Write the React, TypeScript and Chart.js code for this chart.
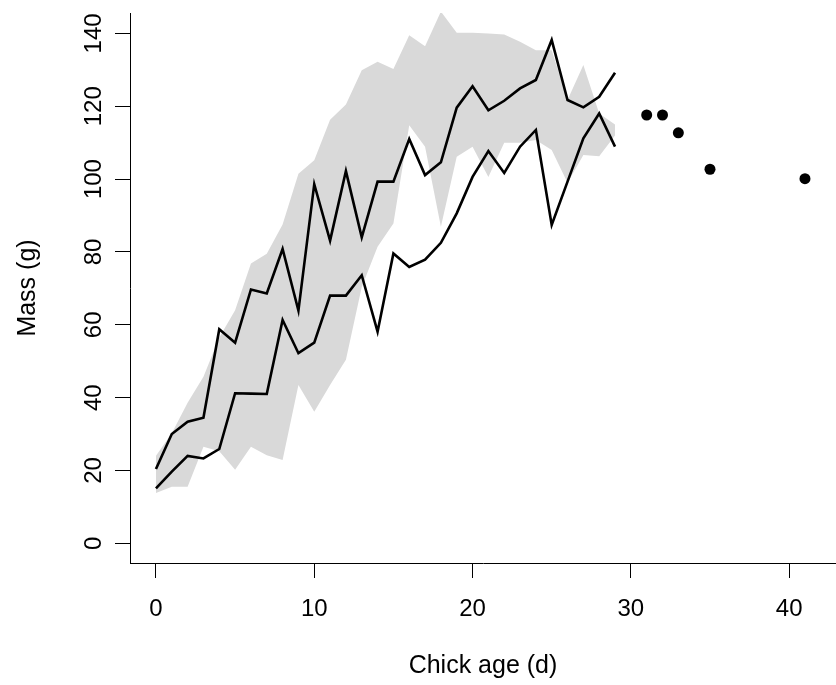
import React, { useEffect, useRef } from "react";
import { Chart, registerables } from "chart.js";

Chart.register(...registerables);

const ages = [0, 1, 2, 3, 4, 5, 6, 7, 8, 9, 10, 11, 12, 13, 14, 15, 16, 17, 18, 19, 20, 21, 22, 23, 24, 25, 26, 27, 28, 29];
const bandUpper = [24.0, 30.2, 38.6, 45.7, 56.5, 64.0, 76.8, 79.5, 87.5, 101.5, 105.2, 116.3, 120.5, 129.9, 132.2, 130.2, 139.5, 136.5, 146.0, 140.2, 140.2, 140.0, 139.7, 137.7, 135.4, 135.4, 121.7, 131.3, 118.0, 115.0];
const bandLower = [13.8, 15.5, 15.5, 26.5, 25.3, 20.2, 26.5, 24.2, 22.9, 43.5, 36.1, 43.5, 50.4, 70.4, 81.4, 87.8, 114.8, 108.9, 86.9, 106.1, 108.9, 100.6, 110.0, 110.0, 110.7, 108.0, 99.0, 106.6, 106.3, 112.0];
const massHigh = [20.4, 30.0, 33.4, 34.5, 58.8, 55.1, 69.7, 68.6, 80.8, 63.9, 98.6, 83.1, 102.2, 84.0, 99.3, 99.3, 111.0, 101.1, 104.6, 119.6, 125.5, 118.9, 121.5, 124.9, 127.2, 138.2, 121.7, 119.7, 122.6, 129.2];
const massLow = [15.1, 19.7, 24.0, 23.3, 25.9, 41.2, 41.1, 41.0, 61.3, 52.2, 55.1, 68.0, 68.0, 73.6, 58.1, 79.6, 75.9, 77.9, 82.5, 90.6, 100.6, 107.7, 101.7, 108.9, 113.5, 87.4, 99.3, 111.2, 118.0, 108.9];
const extraAges = [31, 32, 33, 35, 41];
const extraMass = [117.6, 117.6, 112.7, 102.7, 100.1];
const xTicks = [0, 10, 20, 30, 40];
const yTicks = [0, 20, 40, 60, 80, 100, 120, 140];

const FONT = "'Liberation Sans', Arial, Helvetica, sans-serif";

export default function App() {
  const ref = useRef<HTMLCanvasElement | null>(null);

  useEffect(() => {
    const canvas = ref.current;
    if (!canvas) return;
    const pts = (xs: number[], ys: number[]) => xs.map((x, i) => ({ x, y: ys[i] }));
    const chart = new Chart(canvas, {
      type: "line",
      data: {
        datasets: [
          {
            data: pts(ages, massHigh),
            borderColor: "#000",
            borderWidth: 2.6,
            pointRadius: 0,
            tension: 0,
            fill: false,
          },
          {
            data: pts(ages, massLow),
            borderColor: "#000",
            borderWidth: 2.6,
            pointRadius: 0,
            tension: 0,
            fill: false,
          },
          {
            data: pts(extraAges, extraMass),
            showLine: false,
            pointRadius: 5.5,
            pointBackgroundColor: "#000",
            pointBorderWidth: 0,
            borderColor: "#000",
            fill: false,
          },
          {
            data: pts(ages, bandUpper),
            borderColor: "rgba(0,0,0,0)",
            borderWidth: 0,
            pointRadius: 0,
            tension: 0,
            backgroundColor: "#d9d9d9",
            fill: "+1",
          },
          {
            data: pts(ages, bandLower),
            borderColor: "rgba(0,0,0,0)",
            borderWidth: 0,
            pointRadius: 0,
            tension: 0,
            fill: false,
          },
        ],
      },
      options: {
        responsive: false,
        animation: false,
        devicePixelRatio: 1,
        layout: { autoPadding: false, padding: { top: 13, left: 0, right: 0, bottom: 0 } },
        plugins: {
          legend: { display: false },
          tooltip: { enabled: false },
          filler: { drawTime: "beforeDatasetsDraw" },
        },
        scales: {
          x: {
            type: "linear",
            position: "bottom",
            min: -1.64,
            max: 42.96,
            afterBuildTicks: (s: any) => {
              s.ticks = xTicks.map((v) => ({ value: v }));
            },
            afterFit: (s: any) => {
              s.height = 122;
              s.paddingLeft = 0;
              s.paddingRight = 0;
            },
            grid: {
              display: true,
              drawOnChartArea: false,
              drawTicks: true,
              tickLength: 15,
              color: "#000",
              lineWidth: 1,
            },
            border: { display: true, color: "#000", width: 1 },
            ticks: {
              color: "#000",
              font: { family: FONT, size: 24 },
              padding: 17,
              maxRotation: 0,
              minRotation: 0,
              callback: (v: any) => String(v),
            },
            title: {
              display: true,
              text: "Chick age (d)",
              color: "#000",
              font: { family: FONT, size: 25 },
              padding: { top: 0, bottom: 3.4 },
            },
          },
          y: {
            type: "linear",
            position: "left",
            min: -5.4,
            max: 145.6,
            afterBuildTicks: (s: any) => {
              s.ticks = yTicks.map((v) => ({ value: v }));
            },
            afterFit: (s: any) => {
              s.width = 130;
              s.paddingTop = 0;
              s.paddingBottom = 0;
            },
            grid: {
              display: true,
              drawOnChartArea: false,
              drawTicks: true,
              tickLength: 15,
              color: "#000",
              lineWidth: 1,
            },
            border: { display: true, color: "#000", width: 1 },
            ticks: {
              color: "#000",
              font: { family: FONT, size: 24 },
              padding: 1,
              minRotation: 90,
              maxRotation: 90,
              crossAlign: "center",
              callback: (v: any) => String(v),
            },
            title: {
              display: true,
              text: "Mass (g)",
              color: "#000",
              font: { family: FONT, size: 25 },
              padding: { top: 13.4, bottom: 0 },
            },
          },
        },
      },
    });
    return () => chart.destroy();
  }, []);

  return (
    <div style={{ position: "absolute", left: 0, top: 0, width: 836, height: 685, background: "#fff" }}>
      <canvas ref={ref} width={836} height={685} style={{ display: "block", width: 836, height: 685 }} />
    </div>
  );
}
